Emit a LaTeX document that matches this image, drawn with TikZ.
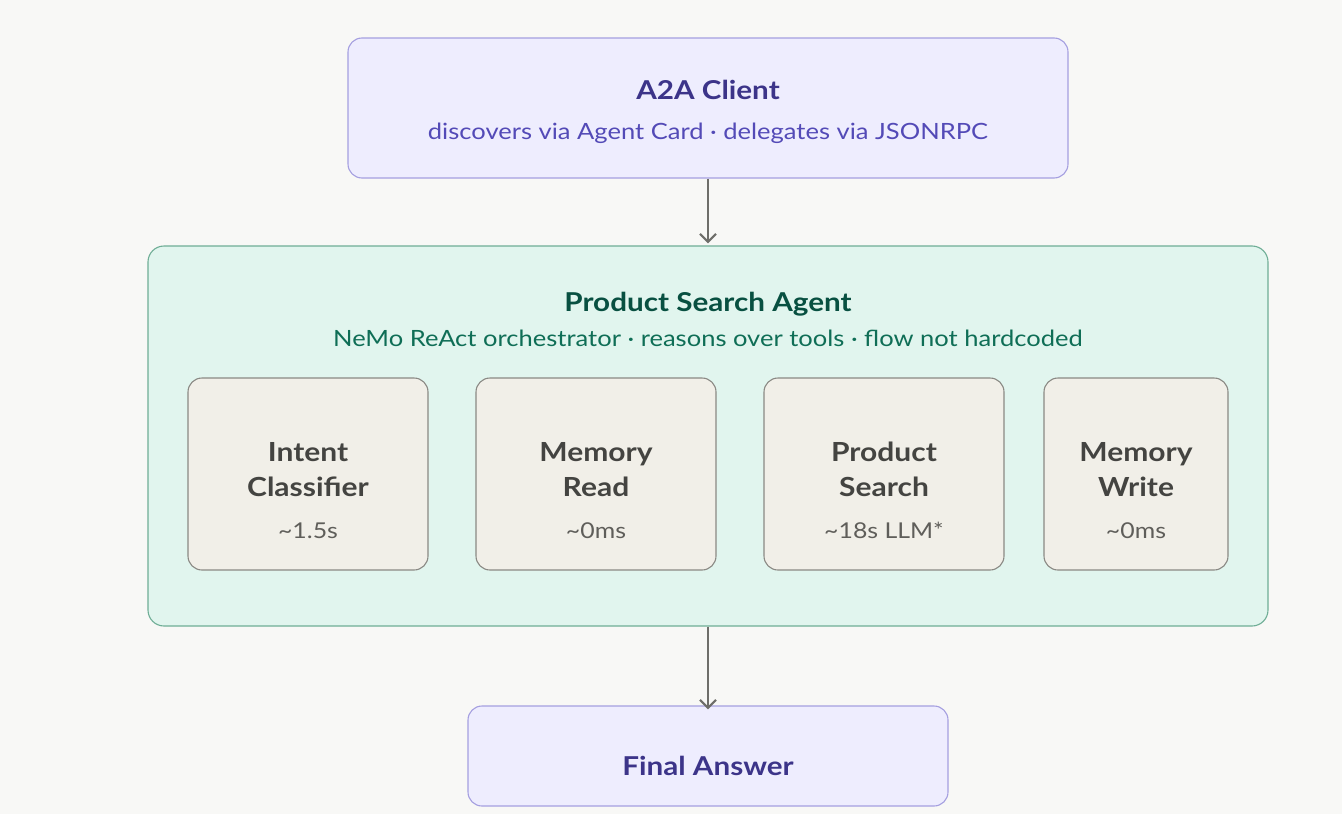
\documentclass[tikz,border=0pt]{standalone}
\usepackage{fontspec}
\setmainfont{Lato}[FakeStretch=1.14]
\usetikzlibrary{arrows.meta}
\definecolor{bgc}{HTML}{F8F8F6}
\definecolor{lavfill}{HTML}{EEEDFE}
\definecolor{lavline}{HTML}{A59FE0}
\definecolor{lavtitle}{HTML}{3C3489}
\definecolor{lavsub}{HTML}{534AB7}
\definecolor{grnfill}{HTML}{E1F5EE}
\definecolor{grnline}{HTML}{6FAE96}
\definecolor{grntitle}{HTML}{085041}
\definecolor{grnsub}{HTML}{0F6E56}
\definecolor{toolfill}{HTML}{F1EFE8}
\definecolor{toolline}{HTML}{8A8984}
\definecolor{tooltitle}{HTML}{444441}
\definecolor{toolsub}{HTML}{5F5E5A}
\definecolor{arrowc}{HTML}{6E6E6A}
\tikzset{
  box/.style={rounded corners=14pt, line width=1.1pt, inner sep=0pt},
  lavbox/.style={box, draw=lavline, fill=lavfill},
  grnbox/.style={box, draw=grnline, fill=grnfill, rounded corners=16pt},
  toolbox/.style={box, draw=toolline, fill=toolfill, rounded corners=14pt},
  txt/.style={inner sep=0pt, anchor=base},
  ttl/.style={txt, font=\fontsize{26}{30}\selectfont\bfseries},
  sub/.style={txt, font=\fontsize{22.4}{26}\selectfont},
  tooltl/.style={txt, font=\fontsize{26.3}{32}\selectfont\bfseries, text=tooltitle},
  toolsb/.style={txt, font=\fontsize{21.8}{26}\selectfont, text=toolsub},
  flow/.style={draw=arrowc, line width=2.2pt, -{Straight Barb[length=8pt,width=16pt,line width=2.2pt]}}
}
\begin{document}
\begin{tikzpicture}[x=1pt,y=-1pt]
\fill[bgc] (0,0) rectangle (1342,814);
\useasboundingbox (0,0) rectangle (1342,814);

% A2A client
\node[lavbox, minimum width=720pt, minimum height=140pt] (client) at (708,108) {};
\node[ttl, text=lavtitle] (clientT) at (708,99) {A2A Client};
\node[sub, text=lavsub] (clientS) at (708,139) {discovers via Agent Card · delegates via JSONRPC};

% Agent
\node[grnbox, minimum width=1120pt, minimum height=380pt] (agent) at (708,436) {};
\node[ttl, text=grntitle] (agentT) at (708,311) {Product Search Agent};
\node[sub, text=grnsub] (agentS) at (708,346) {NeMo ReAct orchestrator · reasons over tools · flow not hardcoded};

% tools
\node[toolbox, minimum width=240pt, minimum height=192pt] (t1) at (308,474) {};
\node[toolbox, minimum width=240pt, minimum height=192pt] (t2) at (596,474) {};
\node[toolbox, minimum width=240pt, minimum height=192pt] (t3) at (884,474) {};
\node[toolbox, minimum width=184pt, minimum height=192pt] (t4) at (1136,474) {};

\node[tooltl] (t1a) at (308,461) {Intent};
\node[tooltl] (t1b) at (308,496) {Classifier};
\node[toolsb] (t1c) at (308,538) {\textasciitilde1.5s};

\node[tooltl] (t2a) at (596,461) {Memory};
\node[tooltl] (t2b) at (596,496) {Read};
\node[toolsb] (t2c) at (596,538) {\textasciitilde0ms};

\node[tooltl] (t3a) at (884,461) {Product};
\node[tooltl] (t3b) at (884,496) {Search};
\node[toolsb] (t3c) at (884,538) {\textasciitilde18s LLM*};

\node[tooltl] (t4a) at (1136,461) {Memory};
\node[tooltl] (t4b) at (1136,496) {Write};
\node[toolsb] (t4c) at (1136,538) {\textasciitilde0ms};

% final
\node[lavbox, minimum width=480pt, minimum height=100pt] (final) at (708,756) {};
\node[ttl, text=lavtitle] (finalT) at (708,775) {Final Answer};

% arrows
\draw[flow] (client.south) -- ([yshift=2pt]agent.north);
\draw[flow] (agent.south) -- ([yshift=-4pt]final.north);
\end{tikzpicture}
\end{document}
